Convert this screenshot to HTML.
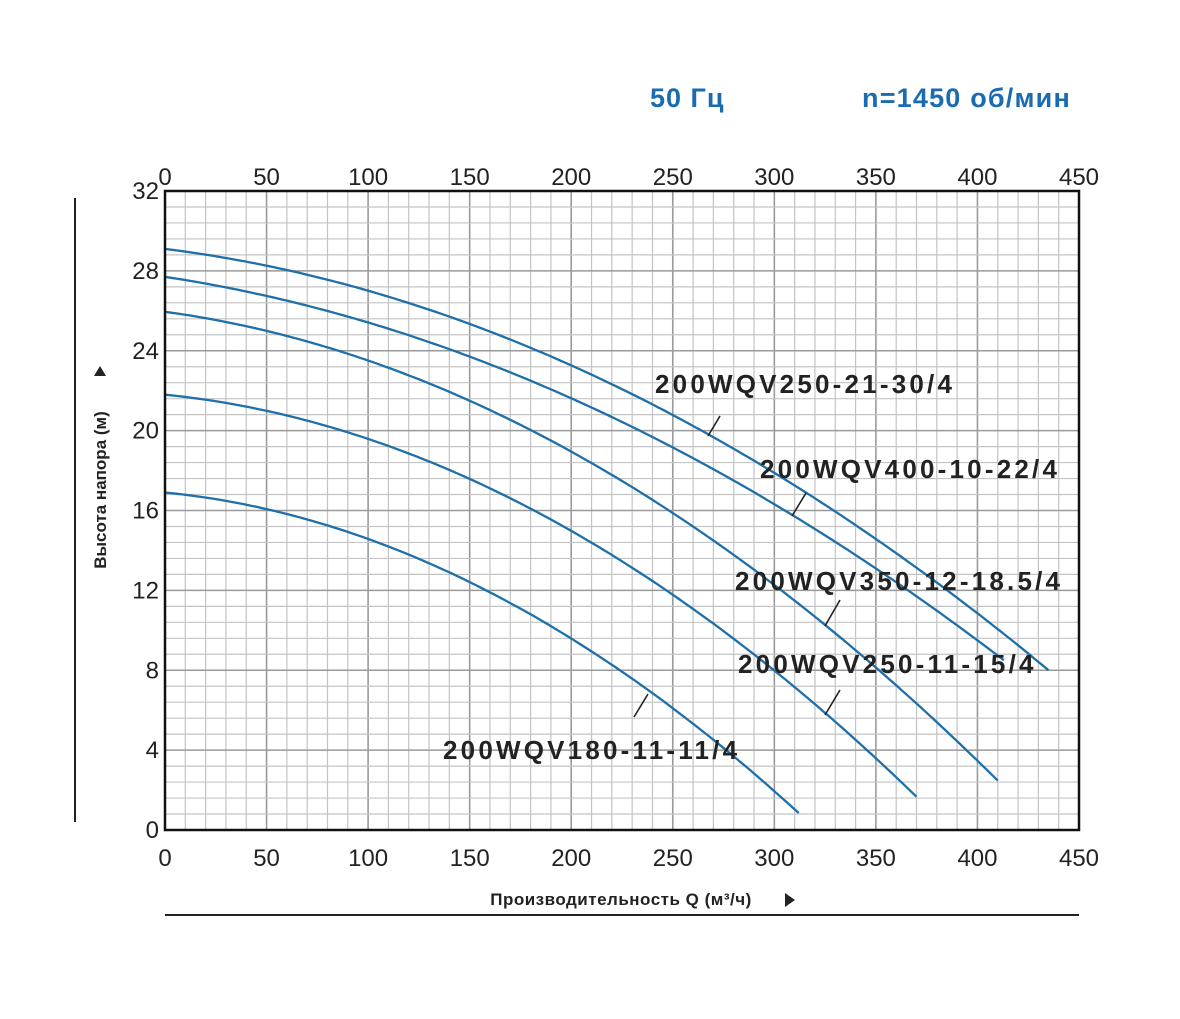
<!DOCTYPE html>
<html><head><meta charset="utf-8"><style>
body{margin:0;background:#fff;}
svg{display:block;font-family:"Liberation Sans",sans-serif;}
</style></head><body>
<svg id="s" width="1180" height="1019" viewBox="0 0 1180 1019" xmlns="http://www.w3.org/2000/svg">
<rect width="1180" height="1019" fill="#fff"/>
<text x="650" y="107" font-size="27" font-weight="bold" fill="#1a6bb0" letter-spacing="1">50 Гц</text>
<text x="862" y="107" font-size="27" font-weight="bold" fill="#1a6bb0" letter-spacing="1.2">n=1450 об/мин</text>
<g id="grid"></g>
<g id="curves" fill="none" stroke="#1f6fa8" stroke-width="2.3"></g>
<rect x="165" y="191" width="914" height="639" fill="none" stroke="#111" stroke-width="2.5"/>
<g id="lab" font-size="24" fill="#222"></g>
<g font-size="26" font-weight="bold" fill="#222" letter-spacing="3.2">
<text x="655" y="393">200WQV250-21-30/4</text>
<text x="760" y="478">200WQV400-10-22/4</text>
<text x="735" y="590">200WQV350-12-18.5/4</text>
<text x="738" y="673">200WQV250-11-15/4</text>
<text x="443" y="759">200WQV180-11-11/4</text>
</g>
<g stroke="#222" stroke-width="1.6">
<line x1="708" y1="436" x2="720" y2="416"/>
<line x1="792" y1="516" x2="806" y2="493"/>
<line x1="825" y1="626" x2="840" y2="600"/>
<line x1="825" y1="715" x2="840" y2="690"/>
<line x1="634" y1="717" x2="648" y2="694"/>
</g>
<text transform="translate(106,490) rotate(-90)" text-anchor="middle" font-size="17" font-weight="bold" fill="#222">Высота напора (м)</text>
<polygon points="94,376 106,376 100,366" fill="#222"/>
<line x1="75" y1="198" x2="75" y2="822" stroke="#222" stroke-width="2"/>
<text x="621" y="905" text-anchor="middle" font-size="17" font-weight="bold" fill="#222" letter-spacing="0.5">Производительность Q (м³/ч)</text>
<polygon points="785,893 785,907 795,900" fill="#222"/>
<line x1="165" y1="915" x2="1079" y2="915" stroke="#222" stroke-width="2"/>
</svg>
<script>
var ns="http://www.w3.org/2000/svg";
function el(p,t,a,txt){var e=document.createElementNS(ns,t);for(var k in a)e.setAttribute(k,a[k]);if(txt!=null)e.textContent=txt;document.getElementById(p).appendChild(e);}
var X=function(q){return 165+q*914/450},Y=function(h){return 830-h*639/32};
for(var q=10;q<450;q+=10){var d=q%50==0;el("grid","line",{x1:X(q),x2:X(q),y1:191,y2:830,stroke:d?"#9a9a9a":"#c4c4c4","stroke-width":d?1.6:1.2});}
for(var i=1;i<40;i++){var h=i*0.8;var d=i%5==0;el("grid","line",{x1:165,x2:1079,y1:Y(h),y2:Y(h),stroke:d?"#9a9a9a":"#c4c4c4","stroke-width":d?1.6:1.2});}
for(var q=0;q<=450;q+=50){el("lab","text",{x:X(q),y:185,"text-anchor":"middle"},q);el("lab","text",{x:X(q),y:866,"text-anchor":"middle"},q);}
for(var h=0;h<=32;h+=4){el("lab","text",{x:159,y:Y(h)+8,"text-anchor":"end"},h);}
var C=[[29.1,0.0127,8.23e-5,435],[27.7,0.0153,7.55e-5,413],[25.95,0.0138,1.06e-4,410],[21.8,0.0102,1.195e-4,370],[16.9,0.00995,1.33e-4,312]];
C.forEach(function(c){var p="";for(var q=0;q<=c[3];q+=3){var qq=Math.min(q,c[3]);p+=(q?"L":"M")+X(qq).toFixed(1)+","+Y(c[0]-c[1]*qq-c[2]*qq*qq).toFixed(1);}
var qq=c[3];p+="L"+X(qq).toFixed(1)+","+Y(c[0]-c[1]*qq-c[2]*qq*qq).toFixed(1);el("curves","path",{d:p});});
</script>
</body></html>
